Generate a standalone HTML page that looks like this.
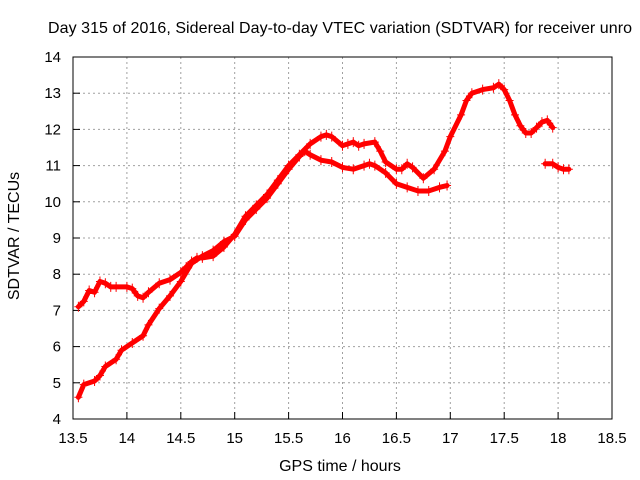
<!DOCTYPE html>
<html><head><meta charset="utf-8"><style>
body{margin:0;background:#fff}
svg{display:block;font-family:"Liberation Sans",sans-serif;font-size:15px}
</style></head><body>
<svg id="c" width="640" height="480">
<rect width="640" height="480" fill="#fff"/>
<text x="48" y="33" font-size="16" textLength="584">Day 315 of 2016, Sidereal Day-to-day VTEC variation (SDTVAR) for receiver unro</text>
<text x="340" y="471" text-anchor="middle" font-size="16">GPS time / hours</text>
<text transform="translate(19,236) rotate(-90)" text-anchor="middle" font-size="16">SDTVAR / TECUs</text>
<g id="grid"></g><g id="ticks"></g><g id="series"></g>
<rect x="73" y="57" width="539" height="362" fill="none" stroke="#000" stroke-width="1"/>
</svg>
<script>
const xTicks=[13.5,14,14.5,15,15.5,16,16.5,17,17.5,18,18.5];
const yTicks=[4,5,6,7,8,9,10,11,12,13,14];
const seriesAT=[13.55,13.6,13.65,13.7,13.75,13.8,13.85,13.9,14.0,14.05,14.1,14.15,14.2,14.3,14.4,14.5,14.55,14.6,14.65,14.7,14.8,14.9,15.0,15.1,15.2,15.3,15.4,15.5,15.6,15.7,15.8,15.85,15.9,16.0,16.05,16.1,16.15,16.2,16.3,16.35,16.4,16.5,16.55,16.6,16.65,16.75,16.85,16.95,17.0,17.1,17.15,17.2,17.3,17.4,17.45,17.5,17.55,17.6,17.65,17.7,17.75,17.8,17.85,17.9,17.95];
const seriesAV=[7.1,7.25,7.55,7.5,7.8,7.75,7.65,7.65,7.65,7.6,7.4,7.35,7.5,7.75,7.85,8.05,8.2,8.35,8.45,8.45,8.5,8.75,9.1,9.6,9.9,10.2,10.6,11.0,11.3,11.6,11.8,11.85,11.8,11.55,11.6,11.65,11.55,11.6,11.65,11.4,11.1,10.9,10.9,11.05,10.95,10.65,10.9,11.4,11.8,12.4,12.8,13.0,13.1,13.15,13.25,13.1,12.8,12.4,12.1,11.9,11.9,12.05,12.2,12.25,12.05];
const seriesBT=[13.55,13.6,13.7,13.75,13.8,13.9,13.95,14.05,14.15,14.2,14.3,14.4,14.5,14.6,14.7,14.8,14.9,15.0,15.1,15.2,15.3,15.4,15.5,15.6,15.65,15.7,15.8,15.9,16.0,16.1,16.2,16.25,16.3,16.4,16.5,16.6,16.7,16.8,16.9,16.97];
const seriesBV=[4.6,4.95,5.05,5.2,5.45,5.65,5.9,6.1,6.3,6.6,7.05,7.4,7.8,8.3,8.5,8.65,8.9,9.05,9.5,9.8,10.1,10.5,10.9,11.25,11.4,11.3,11.15,11.1,10.95,10.9,11.0,11.05,11.0,10.8,10.5,10.4,10.3,10.3,10.4,10.45];
const seriesCT=[17.88,17.95,18.0,18.05,18.1];
const seriesCV=[11.05,11.05,10.95,10.9,10.9];
const NS='http://www.w3.org/2000/svg';
const X=v=>73+(v-13.5)*539/5, Y=v=>419-(v-4)*362/10;
function mk(t,a,p){const e=document.createElementNS(NS,t);for(const k in a)e.setAttribute(k,a[k]);p.appendChild(e);return e;}
const g=document.getElementById('grid'),tk=document.getElementById('ticks'),sg=document.getElementById('series');
xTicks.forEach(v=>{
 if(v>13.5&&v<18.5){const l=mk('line',{x1:X(v),x2:X(v),y1:57,y2:419,stroke:'#a0a0a0','stroke-dasharray':'2,3'},g);
 }
 mk('line',{x1:X(v),x2:X(v),y1:419,y2:412,stroke:'#000'},tk);
 const s=mk('text',{x:X(v),y:443,'text-anchor':'middle'},tk);s.textContent=v;
 
});
yTicks.forEach(v=>{
 if(v>4&&v<14){const l=mk('line',{x1:73,x2:612,y1:Y(v),y2:Y(v),stroke:'#a0a0a0','stroke-dasharray':'2,3'},g);
 }
 mk('line',{x1:73,x2:80,y1:Y(v),y2:Y(v),stroke:'#000'},tk);
 const s=mk('text',{x:61,y:Y(v)+5,'text-anchor':'end'},tk);s.textContent=v;
 
});
function draw(T,V,name){
 const pl=mk('polyline',{points:T.map((t,i)=>X(t)+','+Y(V[i])).join(' '),fill:'none',stroke:'#f00','stroke-width':5,'stroke-linejoin':'round','stroke-linecap':'round'},sg);
 
 T.forEach((t,i)=>{const x=X(t),y=Y(V[i]);
  const p=mk('path',{d:`M${x-4},${y}h8M${x},${y-5}v10`,stroke:'#f00','stroke-width':1},sg);
  });
}
draw(seriesAT,seriesAV,'series-a');
draw(seriesBT,seriesBV,'series-b');
draw(seriesCT,seriesCV,'series-c');
</script>
</body></html>
